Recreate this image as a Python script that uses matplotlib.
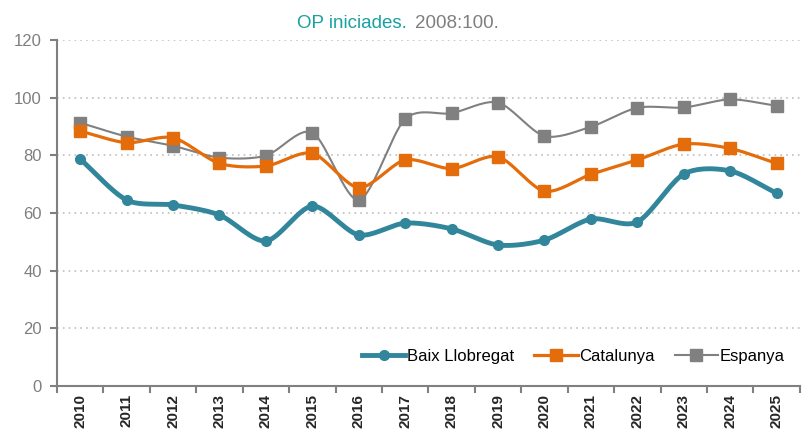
import numpy as np
import matplotlib
matplotlib.use("Agg")
import matplotlib.pyplot as plt
from matplotlib.ticker import FixedLocator, NullFormatter

years = [str(y) for y in range(2010, 2026)]
baix = [78.7, 64.5, 62.8, 59.3, 50.3, 62.4, 52.4, 56.5, 54.5, 48.9, 50.6, 57.9, 56.9, 73.5, 74.6, 66.9]
catalunya = [88.4, 84.4, 86.1, 77.2, 76.3, 80.7, 68.8, 78.4, 75.4, 79.5, 67.6, 73.4, 78.4, 83.9, 82.4, 77.2]
espanya = [91.3, 86.5, 83.3, 79.2, 79.9, 87.9, 64.5, 92.6, 94.6, 98.3, 86.7, 89.9, 96.5, 96.6, 99.4, 97.2]
yticks = [0, 20, 40, 60, 80, 100, 120]

plt.rcParams['font.family'] = ['Liberation Sans', 'DejaVu Sans']


def smooth(x, y, n=20):
    x = np.asarray(x, float)
    y = np.asarray(y, float)
    px = np.concatenate([[2 * x[0] - x[1]], x, [2 * x[-1] - x[-2]]])
    py = np.concatenate([[2 * y[0] - y[1]], y, [2 * y[-1] - y[-2]]])
    xs, ys = [], []
    for i in range(1, len(px) - 2):
        t = np.linspace(0, 1, n, endpoint=False)
        for arr, out in ((px, xs), (py, ys)):
            p0, p1, p2, p3 = arr[i - 1], arr[i], arr[i + 1], arr[i + 2]
            m1 = (p2 - p0) / 2 * 0.85
            m2 = (p3 - p1) / 2 * 0.85
            h00 = 2 * t**3 - 3 * t**2 + 1
            h10 = t**3 - 2 * t**2 + t
            h01 = -2 * t**3 + 3 * t**2
            h11 = t**3 - t**2
            out.extend(h00 * p1 + h10 * m1 + h01 * p2 + h11 * m2)
    xs.append(x[-1])
    ys.append(y[-1])
    return np.array(xs), np.array(ys)


fig = plt.figure(figsize=(8.03, 4.36), dpi=100)
ax = fig.add_axes([0.071, 0.1147, 0.925, 0.7935])

x = np.arange(len(years))
teal = '#31869B'
orange = '#E46C0A'
gray = '#808080'

series = [
    ('Espanya', espanya, gray, 1.5, 's', 8, 3),
    ('Catalunya', catalunya, orange, 2.3, 's', 8.5, 4),
    ('Baix Llobregat', baix, teal, 3.5, 'o', 7, 5),
]
handles = {}
for name, vals, col, lw, mk, ms, z in series:
    sx, sy = smooth(x, vals)
    ax.plot(sx, sy, color=col, lw=lw, zorder=z, solid_capstyle='round')
    ax.plot(x, vals, ls='none', marker=mk, ms=ms, color=col, zorder=z)
    h, = ax.plot([], [], color=col, lw=lw, marker=mk, ms=ms)
    handles[name] = h

ax.set_xlim(-0.5, len(years) - 0.5)
ax.set_ylim(0, 120)
ax.set_yticks(yticks)
ax.set_yticklabels([str(v) for v in yticks], color='#7F7F7F', fontsize=12)
ax.yaxis.grid(True, ls=(0, (1, 2.5)), color='#BFBFBF', lw=1.2)
ax.set_axisbelow(True)

ax.set_xticks(x)
ax.set_xticklabels(years, rotation=90, fontsize=11, fontweight='bold', color='#262626')
ax.tick_params(axis='x', which='major', length=0, pad=6)
ax.xaxis.set_minor_locator(FixedLocator(np.arange(-0.5, len(years), 1)))
ax.xaxis.set_minor_formatter(NullFormatter())
ax.tick_params(axis='x', which='minor', length=5, color='#808080', width=1.5)
ax.tick_params(axis='y', length=5, color='#808080', width=1.5, pad=6)

for s in ['top', 'right']:
    ax.spines[s].set_visible(False)
for s in ['left', 'bottom']:
    ax.spines[s].set_color('#808080')
    ax.spines[s].set_linewidth(1.5)

ax.legend([handles['Baix Llobregat'], handles['Catalunya'], handles['Espanya']],
          ['Baix Llobregat', 'Catalunya', 'Espanya'],
          loc='lower right', bbox_to_anchor=(1.0, 0.02), ncol=3, frameon=False,
          fontsize=12, handlelength=2.6, handletextpad=0.1, columnspacing=1.2)

fig.text(0.507, 0.945, 'OP iniciades.', color='#17A2A0', fontsize=13.5, ha='right', va='center')
fig.text(0.517, 0.945, '2008:100.', color='#7F7F7F', fontsize=13.5, ha='left', va='center')

fig.savefig('out.png', dpi=100)
